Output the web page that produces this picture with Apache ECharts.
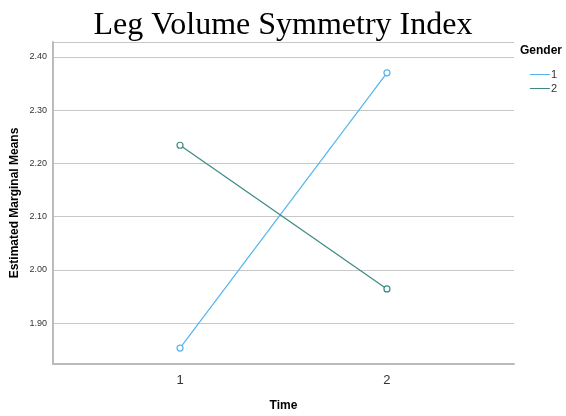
<!DOCTYPE html>
<html>
<head>
<meta charset="utf-8">
<script src="https://cdn.jsdelivr.net/npm/echarts@6/dist/echarts.min.js"></script>
<style>
  html, body { margin: 0; padding: 0; background: #fff; }
  #chart { width: 566px; height: 416px; }
</style>
</head>
<body>
<div id="chart"></div>
<script>
// Estimated marginal means by time point, one line per gender
const timePoints = [1, 2];
const gender1 = [1.853, 2.370];
const gender2 = [2.234, 1.964];
const yTicks = [1.90, 2.00, 2.10, 2.20, 2.30, 2.40];
const seriesNames = ['1', '2'];

const colors = ['#56b4ef', '#3c8a83'];

const chart = echarts.init(document.getElementById('chart'));

const pairs = arr => timePoints.map((t, i) => [t, arr[i]]);

const lineSeries = (name, values, color) => ({
  name: name,
  type: 'line',
  data: pairs(values),
  symbol: 'circle',
  symbolSize: 6,
  color: color,
  itemStyle: { color: '#fff', borderColor: color, borderWidth: 1.2 },
  lineStyle: { color: color, width: 1.2 }
});

chart.setOption({
  animation: false,
  backgroundColor: '#fff',
  title: {
    text: 'Leg Volume Symmetry Index',
    left: 'center',
    top: 5,
    textStyle: {
      fontFamily: 'Liberation Serif',
      fontWeight: 'normal',
      fontSize: 32,
      color: '#000'
    }
  },
  legend: {
    right: 4,
    top: 64,
    orient: 'vertical',
    itemWidth: 20,
    itemHeight: 1,
    itemGap: 3,
    icon: 'rect',
    textStyle: { fontFamily: 'Liberation Sans', fontSize: 11, color: '#333', padding: [0, 0, 0, -4] },
    data: seriesNames.map((n, i) => ({ name: n, itemStyle: { color: colors[i], borderWidth: 0 } }))
  },
  graphic: [{
    type: 'text',
    left: 520,
    top: 45,
    style: { text: 'Gender', font: 'bold 12px "Liberation Sans"', fill: '#000' }
  }],
  grid: { left: 53, right: 52, top: 42, bottom: 52, outerBoundsMode: 'none', containLabel: false },
  xAxis: {
    type: 'value',
    min: 0.386,
    max: 2.614,
    name: 'Time',
    nameLocation: 'middle',
    nameGap: 36,
    nameMoveOverlap: false,
    nameTextStyle: { fontFamily: 'Liberation Sans', fontWeight: 'bold', fontSize: 12, color: '#000' },
    axisLine: { show: true, lineStyle: { color: '#bbb', width: 2 } },
    axisTick: { show: false },
    splitLine: { show: false },
    axisLabel: {
      customValues: timePoints,
      fontFamily: 'Liberation Sans',
      fontSize: 13,
      color: '#333',
      margin: 10
    }
  },
  yAxis: {
    type: 'value',
    min: 1.823,
    max: 2.428,
    name: 'Estimated Marginal Means',
    nameLocation: 'middle',
    nameGap: 32,
    nameMoveOverlap: false,
    nameTextStyle: { fontFamily: 'Liberation Sans', fontWeight: 'bold', fontSize: 12, color: '#000' },
    axisLine: { show: true, lineStyle: { color: '#bbb', width: 2 } },
    axisTick: { show: false },
    splitLine: { show: true, lineStyle: { color: '#c8c8c8', width: 1 } },
    axisLabel: {
      customValues: yTicks,
      formatter: v => v.toFixed(2),
      fontFamily: 'Liberation Sans',
      fontSize: 9,
      color: '#333',
      margin: 6
    }
  },
  series: [
    lineSeries(seriesNames[0], gender1, colors[0]),
    lineSeries(seriesNames[1], gender2, colors[1])
  ]
});
</script>
</body>
</html>
